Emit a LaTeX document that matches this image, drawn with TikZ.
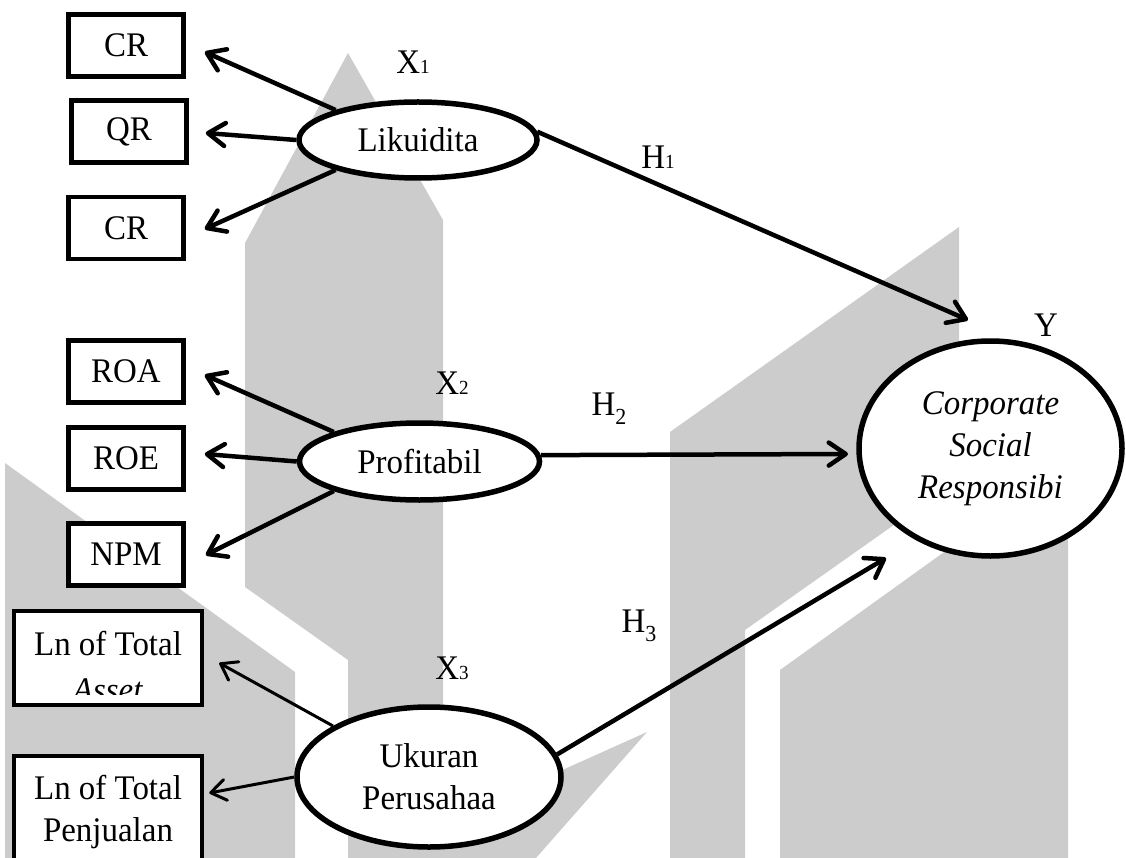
\documentclass[tikz,border=0pt]{standalone}
\usepackage{fontspec}
\setmainfont{Liberation Serif}[FakeStretch=0.955]
\usetikzlibrary{shapes.geometric,arrows.meta}

\newcommand{\varidx}[1]{{\fontsize{20}{20}\selectfont #1}}
\newcommand{\hypidx}[1]{\raisebox{-9pt}{\fontsize{23}{23}\selectfont #1}}

\begin{document}
\begin{tikzpicture}[x=1pt, y=-1pt,
    font=\fontsize{34.5}{42}\selectfont,
    indicator/.style={draw, line width=4.5pt, fill=white, inner sep=0pt, minimum width=115pt, minimum height=62pt},
    latent/.style={draw, ellipse, line width=5.5pt, fill=white, inner sep=0pt, align=center},
    wmark/.style={fill=gray!40},
    arr/.style={line width=4.5pt, -{Straight Barb[length=17pt,width=23pt,round]}},
    thinarr/.style={line width=3pt, -{Straight Barb[length=15pt,width=21pt,round]}}]
    \clip (0,0) rectangle (1126,858);

    % Watermark in the background
    \fill[wmark] (348,53) -- (443,220) -- (443,858) -- (348,858) -- (348,660) -- (245,587) -- (245,243) -- cycle;
    \fill[wmark] (5,463) -- (295,672) -- (295,858) -- (5,858) -- cycle;
    \fill[wmark] (670,858) -- (670,432) -- (959,227) -- (959,479) -- (745,630) -- (745,858) -- cycle;
    \fill[wmark] (780,858) -- (780,670) -- (1068,463) -- (1068,858) -- cycle;
    \fill[wmark] (647,732) -- (536,858) -- (440,858) -- (440,825) -- cycle;

    % Indicators
    \node[indicator] (cr1) at (126,45.5) {CR};
    \node[indicator] (qr) at (129,131.5) {QR};
    \node[indicator] (cr2) at (126,228) {CR};
    \node[indicator] (roa) at (126,371.5) {ROA};
    \node[indicator] (roe) at (126,458.5) {ROE};
    \node[indicator] (npm) at (126,554.5) {NPM};
    \node[indicator, minimum width=188pt, minimum height=94pt] (asset) at (108,658) {};
    \begin{scope}
        \clip (asset.north west) rectangle ([yshift=13pt]asset.south east);
        \node[align=center, inner sep=0pt] (assettxt) at (108,667) {Ln of Total\\[4pt]\textit{Asset}};
    \end{scope}
    \node[indicator, minimum width=188pt, minimum height=112pt, align=center] (penj) at (108,812) {Ln of Total\\Penjualan};

    % Latent variables
    \node[latent, minimum width=238pt, minimum height=76pt] (lik) at (418,140) {Likuidita};
    \node[latent, minimum width=240pt, minimum height=77pt] (prof) at (419.5,461.5) {Profitabil};
    \node[latent, minimum width=264pt, minimum height=140pt] (uk) at (429,777) {Ukuran\\Perusahaa};
    \node[latent, minimum width=263pt, minimum height=215pt] (csr) at (990.5,448.5) {\textit{Corporate}\\\textit{Social}\\\textit{Responsibi}};

    % Variable labels
    \node (x1) at (413,62) {X\varidx{1}};
    \node (x2) at (452,383) {X\varidx{2}};
    \node (x3) at (452,668) {X\varidx{3}};
    \node (y) at (1046,325) {Y};
    \node (h1) at (658,157) {H\varidx{1}};
    \node (h2) at (609,409) {H\hypidx{2}};
    \node (h3) at (639,626) {H\hypidx{3}};

    % Loadings
    \draw[arr] (lik.160) -- ([shift={(19,6.5)}]cr1.east);
    \draw[arr] (lik.west) -- ([shift={(17,1.5)}]qr.east);
    \draw[arr] (lik.200) -- ([shift={(19,1)}]cr2.east);
    \draw[arr] (prof.161) -- ([shift={(19,3.5)}]roa.east);
    \draw[arr] (prof.west) -- ([shift={(19,-4.5)}]roe.east);
    \draw[arr] (prof.199) -- ([shift={(20,0.5)}]npm.east);
    \draw[thinarr] (uk.152) -- ([shift={(15,5)}]asset.east);
    \draw[thinarr] (uk.west) -- ([shift={(5,-19)}]penj.east);

    % Hypotheses
    \coordinate (h1tip) at (968,320);
    \coordinate (h2tip) at (848,454);
    \coordinate (h3tip) at (886,558);
    \draw[arr] (lik.4) -- (h1tip);
    \draw[arr] (prof.3) -- (h2tip);
    \draw[arr] (uk.10) -- (h3tip);
\end{tikzpicture}
\end{document}
